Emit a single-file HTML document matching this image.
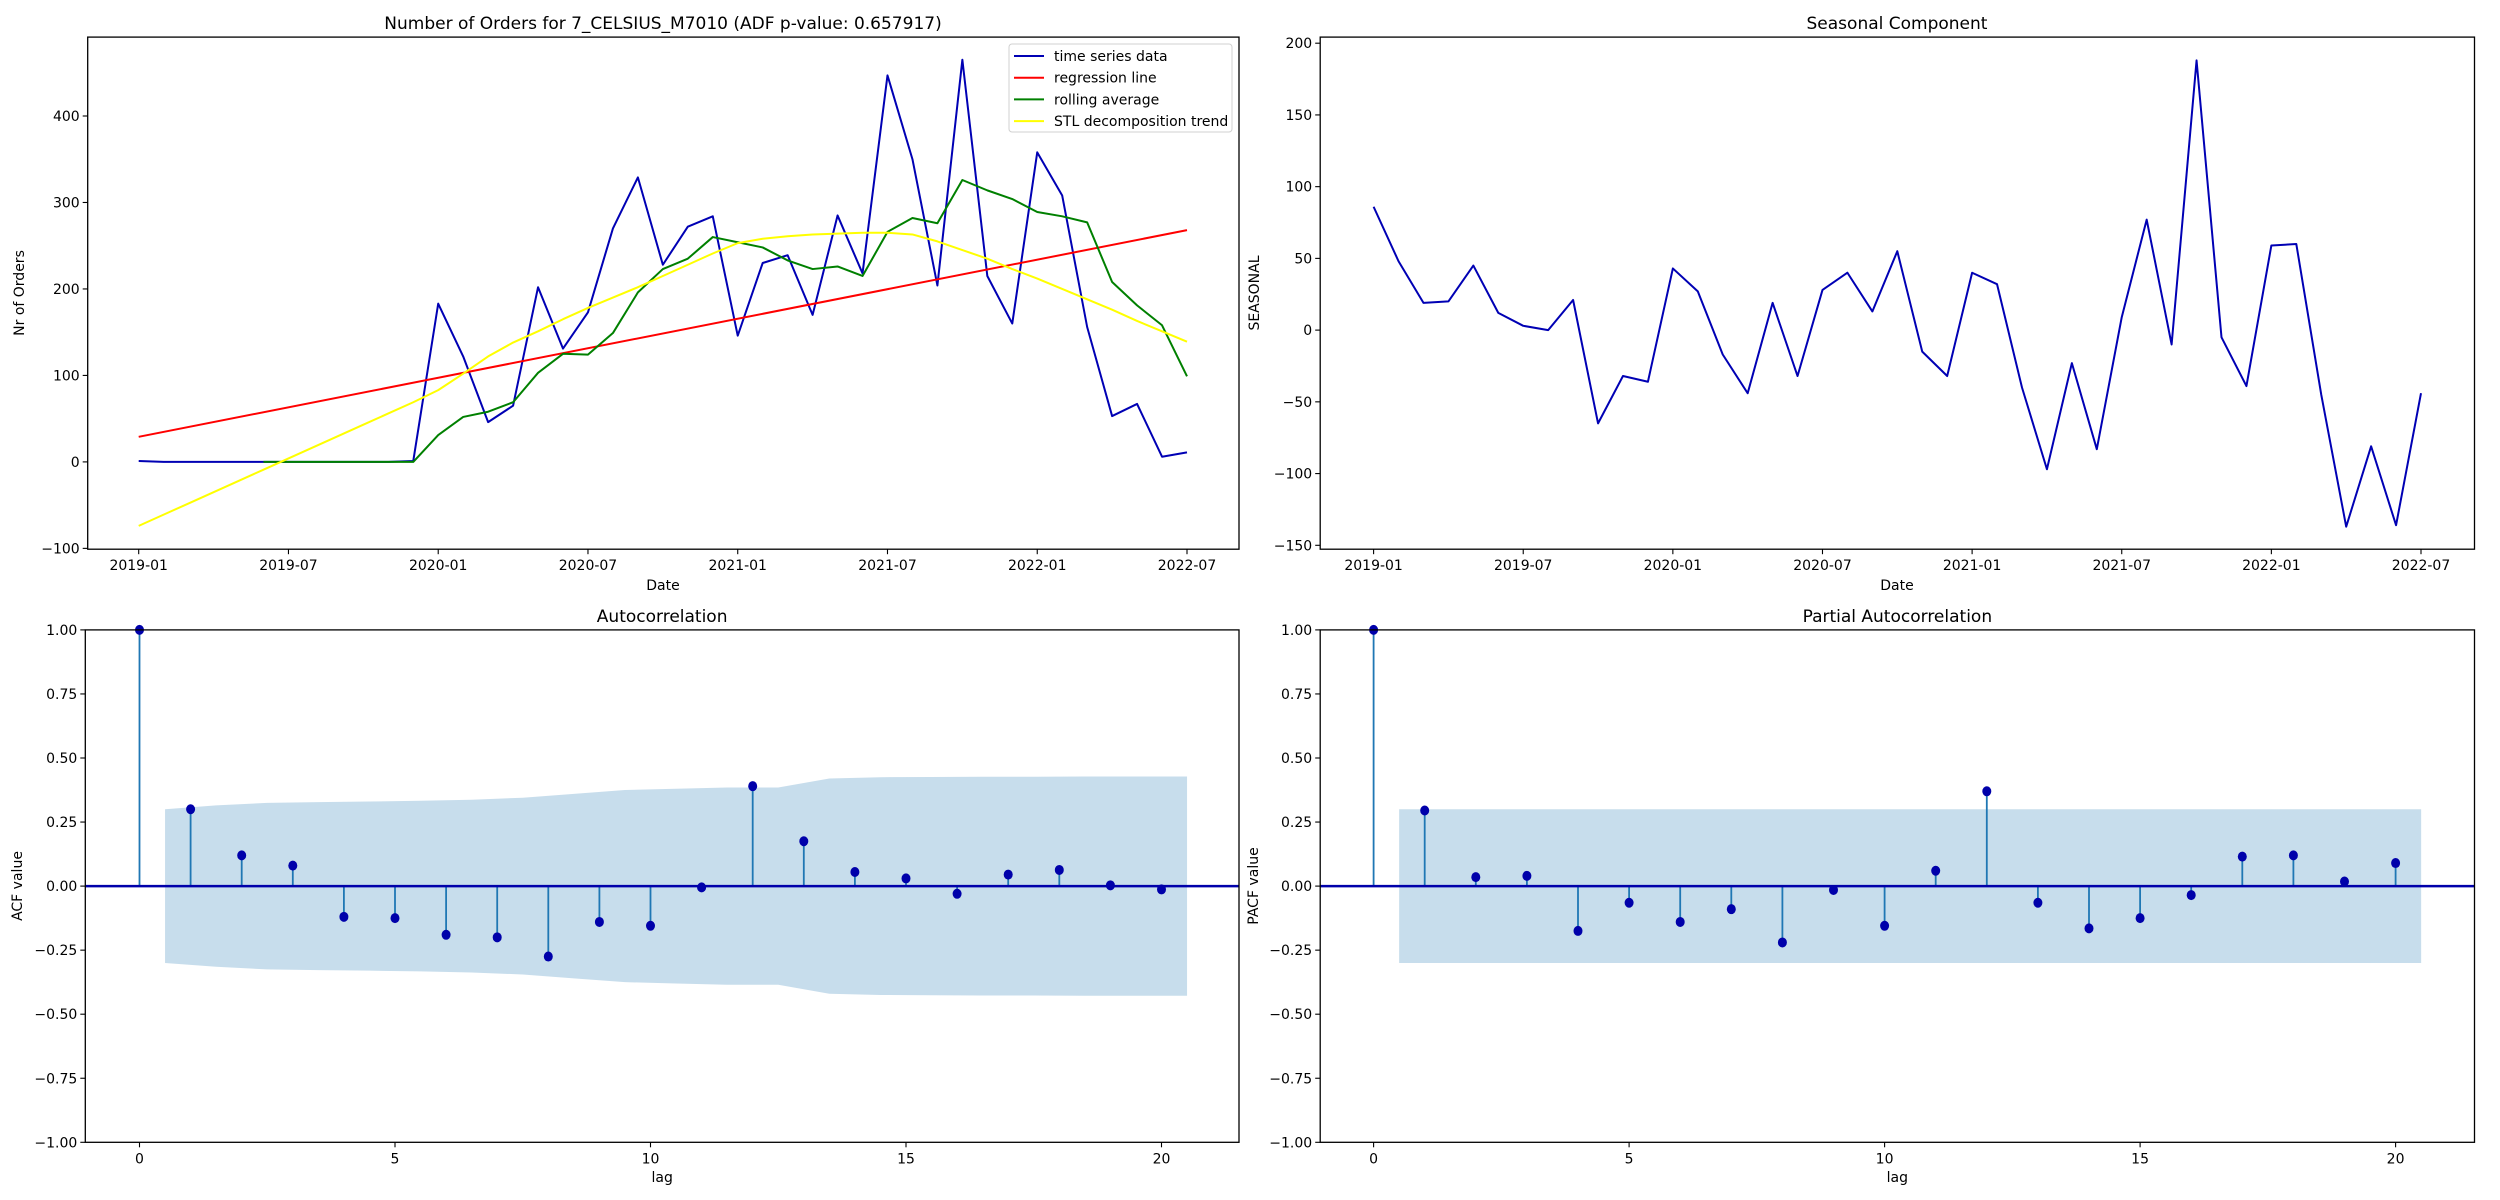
<!DOCTYPE html>
<html><head><meta charset="utf-8">
<style>
html,body{margin:0;padding:0;background:#fff;}
svg{display:block;font-family:"DejaVu Sans","Liberation Sans",sans-serif;}
</style></head>
<body>
<svg id="fig" width="2500" height="1200" viewBox="0 0 2500 1200" xmlns="http://www.w3.org/2000/svg"></svg>
<script>
// ---- data ----
const months = 43; // 2019-01 .. 2022-07
const dateTicks = ["2019-01","2019-07","2020-01","2020-07","2021-01","2021-07","2022-01","2022-07"];
const ordersSeries = [1,0,0,0,0,0,0,0,0,0,0,1,183,122,46,65,202,131,173,270,329,228,272,284,146,230,239,170,285,218,447,350,204,465,215,160,358,308,156,53,67,6,11];
const rollingAvg = [null,null,null,null,null,0,0,0,0,0,0,0,31,52,58,69,103,125,124,149,196,223,235,260,254,248,233,223,226,215,266,282,276,326,314,304,289,284,277,208,181,158,99];
const stlTrend = [-74,-61,-48,-35,-22,-9,4,17,30,43,56,69,83,102,122,138,151,165,178,190,202,215,228,241,253,258,261,263,264,265,265,263,255,245,235,223,212,200,188,176,163,151,139];
const regStartEnd = [29,268];
const ordersTicks = [-100,0,100,200,300,400];
const seasonal = [86,48,19,20,45,12,3,0,21,-65,-32,-36,43,27,-17,-44,19,-32,28,40,13,55,-15,-32,40,32,-40,-97,-23,-83,9,77,-10,188,-5,-39,59,60,-45,-137,-81,-136,-44];
const seasonalTicks = [-150,-100,-50,0,50,100,150,200];
const acfValues = [1,0.30,0.12,0.08,-0.12,-0.125,-0.19,-0.20,-0.275,-0.14,-0.155,-0.005,0.39,0.175,0.055,0.03,-0.03,0.045,0.063,0.003,-0.013];
const acfConf = [0.30,0.315,0.325,0.328,0.330,0.333,0.337,0.345,0.36,0.375,0.38,0.385,0.385,0.42,0.425,0.426,0.427,0.427,0.428,0.428];
const pacfValues = [1,0.295,0.035,0.04,-0.175,-0.065,-0.14,-0.09,-0.22,-0.015,-0.155,0.06,0.37,-0.065,-0.165,-0.125,-0.035,0.115,0.12,0.018,0.09];
const pacfConf = [0.30,0.30,0.30,0.30,0.30,0.30,0.30,0.30,0.30,0.30,0.30,0.30,0.30,0.30,0.30,0.30,0.30,0.30,0.30,0.30];
const corrTicks = [-1,-0.75,-0.5,-0.25,0,0.25,0.5,0.75,1];
const lagTicks = [0,5,10,15,20];

const NS="http://www.w3.org/2000/svg";
const svg=document.getElementById('fig');
function el(tag,attrs,parent){const e=document.createElementNS(NS,tag);for(const k in attrs)e.setAttribute(k,attrs[k]);(parent||svg).appendChild(e);return e;}
function txt(s,attrs,parent){const e=el('text',attrs,parent);e.textContent=s;return e;}
function scale(d0,d1,r0,r1){return v=>r0+(v-d0)*(r1-r0)/(d1-d0);}

function axesFrame(g,L,T,R,B){
  const f=el('rect',{x:L,y:T,width:R-L,height:B-T,fill:'none',stroke:'#000','stroke-width':1.3},g);
  
  
}
function yTicks(g,ticks,ys,L,fmt){
  ticks.forEach(t=>{
    const y=ys(t);
    el('line',{x1:L-5,x2:L,y1:y,y2:y,stroke:'#000','stroke-width':1.1},g);
    const lab=txt(fmt(t),{x:L-8,y:y+5,'text-anchor':'end','font-size':14},g);
    
    
  });
}
function xTicks(g,ticks,labels,xs,B){
  ticks.forEach((t,i)=>{
    const x=xs(t);
    el('line',{x1:x,x2:x,y1:B,y2:B+5,stroke:'#000','stroke-width':1.1},g);
    const lab=txt(labels[i],{x:x,y:B+21,'text-anchor':'middle','font-size':14},g);
    
    
  });
}
function poly(g,vals,xs,ys,color,w,name){
  let d='';let pen=false;
  vals.forEach((v,i)=>{if(v===null){pen=false;return;}d+=(pen?'L':'M')+xs(i).toFixed(2)+','+ys(v).toFixed(2);pen=true;});
  const p=el('path',{d:d,fill:'none',stroke:color,'stroke-width':w,'stroke-linejoin':'round'},g);
  
  
}
function title(g,s,x,y){const t=txt(s,{x:x,y:y,'text-anchor':'middle','font-size':17},g);}
function xlabel(g,s,x,y){const t=txt(s,{x:x,y:y,'text-anchor':'middle','font-size':14},g);}
function ylabel(g,s,x,y){const t=txt(s,{x:x,y:y,'text-anchor':'middle','font-size':14,transform:`rotate(-90 ${x} ${y})`},g);}

// ---- Panel 1: orders ----
(function(){
  const g=el('g',{});
  
  
  const L=87.7,T=37.1,R=1239,B=549.2;
  const xs=scale(0,months-1,138.7,1187);
  const ys=scale(0,400,461.9,116);
  poly(g,ordersSeries,xs,ys,'#0000b4',2,'time-series-line');
  const rl=el('path',{d:`M${xs(0)},${ys(regStartEnd[0])}L${xs(months-1)},${ys(regStartEnd[1])}`,stroke:'#ff0000','stroke-width':2,fill:'none'},g);
  
  
  poly(g,rollingAvg,xs,ys,'#008000',2,'rolling-average-line');
  poly(g,stlTrend,xs,ys,'#ffff00',2,'stl-trend-line');
  axesFrame(g,L,T,R,B);
  yTicks(g,ordersTicks,ys,L,t=>t<0?'\u2212'+Math.abs(t):String(t));
  xTicks(g,[0,6,12,18,24,30,36,42],dateTicks,xs,B);
  title(g,'Number of Orders for 7_CELSIUS_M7010 (ADF p-value: 0.657917)',663,29);
  xlabel(g,'Date',663,590);
  ylabel(g,'Nr of Orders',24,293);
  // legend
  const lg=el('g',{},g);
  
  
  el('rect',{x:1009,y:44,width:223,height:88,rx:3,fill:'#fff','fill-opacity':0.8,stroke:'#d0d0d0'},lg);
  const entries=[['time series data','#0000b4'],['regression line','#ff0000'],['rolling average','#008000'],['STL decomposition trend','#ffff00']];
  entries.forEach((e,i)=>{
    const y=56+i*21.7;
    const en=el('g',{},lg);
    
    
    el('line',{x1:1014,x2:1044,y1:y,y2:y,stroke:e[1],'stroke-width':2},en);
    txt(e[0],{x:1054,y:y+5,'font-size':14},en);
  });
})();

// ---- Panel 2: seasonal ----
(function(){
  const g=el('g',{});
  
  
  const L=1320.2,T=37.1,R=2474.5,B=549.2;
  const xs=scale(0,months-1,1373.6,2421);
  const ys=scale(-150,200,545.3,43.2);
  poly(g,seasonal,xs,ys,'#0000b4',2,'seasonal-line');
  axesFrame(g,L,T,R,B);
  yTicks(g,seasonalTicks,ys,L,t=>t<0?'\u2212'+Math.abs(t):String(t));
  xTicks(g,[0,6,12,18,24,30,36,42],dateTicks,xs,B);
  title(g,'Seasonal Component',1897,29);
  xlabel(g,'Date',1897,590);
  ylabel(g,'SEASONAL',1259,293);
})();

// ---- correlograms ----
function corr(name,L,R,x0,x20,vals,conf,tit,yl,ylx){
  const g=el('g',{});
  
  
  const T=629.9,B=1142.3;
  const xs=scale(0,20,x0,x20);
  const ys=scale(-1,1,B,T);
  let up='',lo='';
  conf.forEach((c,i)=>{const x=xs(i+0.5);up+=(i?'L':'M')+x+','+ys(c);});
  up+='L'+xs(20.5)+','+ys(conf[conf.length-1]);
  lo='L'+xs(20.5)+','+ys(-conf[conf.length-1]);
  for(let i=conf.length-1;i>=0;i--){lo+='L'+xs(i+0.5)+','+ys(-conf[i]);}
  const band=el('path',{d:up+lo+'Z',fill:'#1f77b4','fill-opacity':0.25,stroke:'none'},g);
  
  
  vals.forEach((v,i)=>{
    const st=el('line',{x1:xs(i),x2:xs(i),y1:ys(0),y2:ys(v),stroke:'#1f77b4','stroke-width':1.8},g);
    
    
  });
  const zl=el('line',{x1:L,x2:R,y1:ys(0),y2:ys(0),stroke:'#0000aa','stroke-width':2.5},g);
  
  
  vals.forEach((v,i)=>{
    const m=el('ellipse',{cx:xs(i),cy:ys(v),rx:4.5,ry:5,fill:'#0000aa'},g);
    
    
  });
  axesFrame(g,L,T,R,B);
  yTicks(g,corrTicks,ys,L,t=>(t<0?'\u2212':'')+Math.abs(t).toFixed(2));
  xTicks(g,lagTicks,lagTicks.map(String),xs,B);
  title(g,tit,(L+R)/2,622);
  xlabel(g,'lag',(L+R)/2,1182);
  ylabel(g,yl,ylx,886);
}
corr('acf-chart',85.3,1239,139.5,1161.5,acfValues,acfConf,'Autocorrelation','ACF value',22);
corr('pacf-chart',1320.2,2474.5,1373.6,2395.6,pacfValues,pacfConf,'Partial Autocorrelation','PACF value',1258);
</script>
</body></html>
